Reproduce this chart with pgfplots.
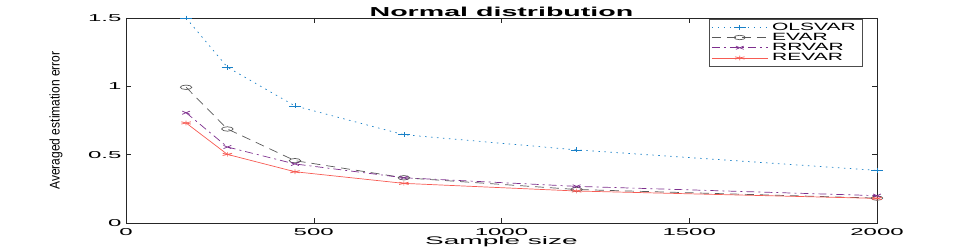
\documentclass[border=0pt]{standalone}
\usepackage{fontspec}
\setmainfont{Liberation Sans}
\newfontfamily\widefont[FakeStretch=2.4]{Liberation Sans}
\newfontfamily\xlabfont[FakeStretch=2.55]{Liberation Sans}
\newfontfamily\titlefont[FakeStretch=2.2]{Liberation Sans}
\newfontfamily\legfont[FakeStretch=2.0]{Liberation Sans}
\newfontfamily\narrowfont[FakeStretch=0.86]{Liberation Sans}
\usepackage{pgfplots}
\pgfplotsset{compat=1.18}
\definecolor{olsblue}{rgb}{0.1,0.5,0.78}
\definecolor{rrpurple}{rgb}{0.494,0.184,0.556}
\definecolor{rered}{rgb}{0.97,0.36,0.33}
\definecolor{axgray}{rgb}{0.15,0.15,0.15}
\begin{document}
\begin{tikzpicture}
\begin{axis}[
  at={(126pt,28pt)}, anchor=south west,
  scale only axis, width=751pt, height=205pt,
  xmin=0, xmax=2000, ymin=0, ymax=1.5,
  xtick={0,500,1000,1500,2000},
  ytick={0,0.5,1,1.5},
  yticklabels={0,0.5,1,1.5},
  scaled ticks=false,
  /pgf/number format/1000 sep={},
  tick align=inside,
  major tick length=5pt,
  axis line style={axgray, line width=0.5pt},
  tick style={axgray, line width=0.5pt},
  /pgf/number format/assume math mode=true,
  tick label style={font=\widefont\fontsize{10}{12}\selectfont, text=black},
  xticklabel style={yshift=-2pt},
  yticklabel style={xshift=-1pt},
  title={\titlefont\bfseries\fontsize{13}{15}\selectfont Normal distribution},
  title style={yshift=-6pt, inner sep=1pt},
  xlabel={\xlabfont\fontsize{11}{13}\selectfont Sample size},
  xlabel style={yshift=6pt},
  ylabel={\narrowfont\fontsize{14}{16}\selectfont Averaged estimation error},
  ylabel style={at={(axis description cs:-0.0932,0.5)}, anchor=center},
  legend cell align=left,
  legend style={at={(0.98,0.997)}, anchor=north east, draw=black!70, line width=0.4pt,
    font=\legfont\fontsize{10.5}{11}\selectfont, row sep=-2.5pt, inner xsep=2pt, inner ysep=2pt,
    nodes={inner xsep=4pt}},
  legend image code/.code={\draw[mark repeat=2,mark phase=2,#1] plot coordinates {(0pt,0pt) (28pt,0pt) (56pt,0pt)};},
  every axis plot/.append style={line width=0.7pt},
]
\addplot[olsblue, dash pattern=on 1.5pt off 4.5pt, mark=+, mark size=2.4pt, mark options={solid, xscale=2.4}]
  coordinates {(160,1.50) (270,1.14) (450,0.857) (740,0.646) (1200,0.535) (2000,0.385)};
\addlegendentry{OLSVAR}
\addplot[black!65, dash pattern=on 9pt off 6pt, mark=o, mark size=2.2pt, mark options={solid, xscale=2.6}]
  coordinates {(160,0.993) (270,0.688) (450,0.456) (740,0.331) (1200,0.245) (2000,0.182)};
\addlegendentry{EVAR}
\addplot[rrpurple, dash pattern=on 8pt off 4pt on 2pt off 4pt, mark=x, mark size=2.3pt, mark options={solid, xscale=2.4}]
  coordinates {(160,0.807) (270,0.556) (450,0.432) (740,0.331) (1200,0.268) (2000,0.200)};
\addlegendentry{RRVAR}
\addplot[rered, solid, mark=asterisk, mark size=2.3pt, mark options={solid, xscale=2.4}]
  coordinates {(160,0.732) (270,0.502) (450,0.375) (740,0.290) (1200,0.234) (2000,0.180)};
\addlegendentry{REVAR}
\end{axis}
\pgfresetboundingbox
\path[use as bounding box] (0,0) rectangle (969pt,251pt);
\end{tikzpicture}
\end{document}
